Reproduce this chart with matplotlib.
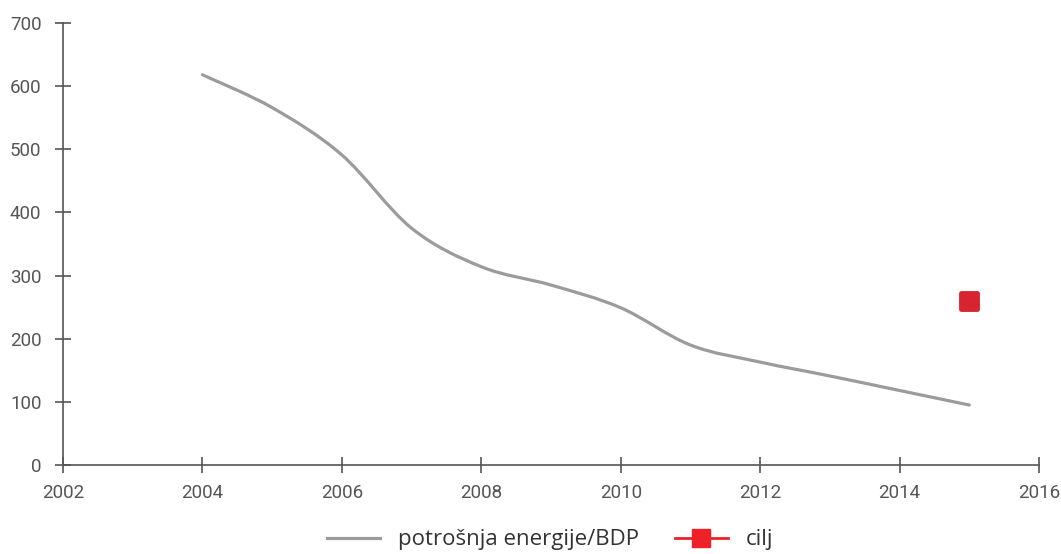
import matplotlib
matplotlib.use("Agg")
import matplotlib.pyplot as plt
import numpy as np
from matplotlib.path import Path
from matplotlib.patches import PathPatch
from matplotlib.lines import Line2D
from matplotlib.markers import MarkerStyle
from matplotlib import font_manager

years = [2004, 2005, 2006, 2007, 2008, 2009, 2010, 2011, 2012, 2013, 2014, 2015]
values = [618, 566, 491, 375, 314, 285, 249, 190, 163, 141, 118, 95]
target_year = [2015]
target_value = [260]
x_ticks = [2002, 2004, 2006, 2008, 2010, 2012, 2014, 2016]
y_ticks = [0, 100, 200, 300, 400, 500, 600, 700]
series_label = "potrošnja energije/BDP"
target_label = "cilj"

names = {f.name for f in font_manager.fontManager.ttflist}
tick_font = "Roboto" if "Roboto" in names else "DejaVu Sans"
leg_font = "Open Sans" if "Open Sans" in names else "DejaVu Sans"

fig = plt.figure(figsize=(10.61, 5.54), dpi=100)
ax = fig.add_axes([63/1061, 89/554, (1039-63)/1061, (465-23)/554])

# smooth curve through the yearly points (Catmull-Rom -> cubic Bezier)
x = np.array(years, float)
y = np.array(values, float)
verts = [(x[0], y[0])]
codes = [Path.MOVETO]
t = 1/6
for i in range(len(x)-1):
    x0, y0 = (x[i-1], y[i-1]) if i > 0 else (x[i], y[i])
    x3, y3 = (x[i+2], y[i+2]) if i+2 < len(x) else (x[i+1], y[i+1])
    c1 = (x[i] + (x[i+1]-x0)*t, y[i] + (y[i+1]-y0)*t)
    c2 = (x[i+1] - (x3-x[i])*t, y[i+1] - (y3-y[i])*t)
    verts += [c1, c2, (x[i+1], y[i+1])]
    codes += [Path.CURVE4]*3
ax.add_patch(PathPatch(Path(verts, codes), facecolor="none", edgecolor="#9b9b9b",
                       lw=2.3, capstyle="round", zorder=3))

ax.plot(target_year, target_value, linestyle="none",
        marker=MarkerStyle("s", joinstyle="round"), markersize=11,
        markerfacecolor="#d7242f", markeredgecolor="#d7242f",
        markeredgewidth=3.5, zorder=4)

ax.set_xlim(2002, 2016)
ax.set_ylim(0, 700)
ax.set_xticks(x_ticks)
ax.set_yticks(y_ticks)
for s in ["top", "right"]:
    ax.spines[s].set_visible(False)
for s in ["left", "bottom"]:
    ax.spines[s].set_color("#555555")
    ax.spines[s].set_linewidth(1.2)
ax.tick_params(direction="inout", length=11, width=1.2, color="#555555",
               labelcolor="#555555", labelsize=13.5)
ax.tick_params(axis="x", pad=8)
ax.tick_params(axis="y", pad=10)
for lab in ax.get_xticklabels() + ax.get_yticklabels():
    lab.set_family(tick_font)

handles = [Line2D([], [], color="#9b9b9b", lw=2.3),
           Line2D([], [], color="#ee2028", lw=2, marker="s", markersize=13,
                  markerfacecolor="#ee2028", markeredgecolor="#ee2028")]
fig.legend(handles, [series_label, target_label], loc="center",
           bbox_to_anchor=(550/1061, 1-540/554), ncol=2, frameon=False,
           prop={"family": leg_font, "size": 16}, handlelength=2.4,
           columnspacing=1.6, handletextpad=0.8, labelcolor="#333333")

fig.savefig("out.png", dpi=100)
